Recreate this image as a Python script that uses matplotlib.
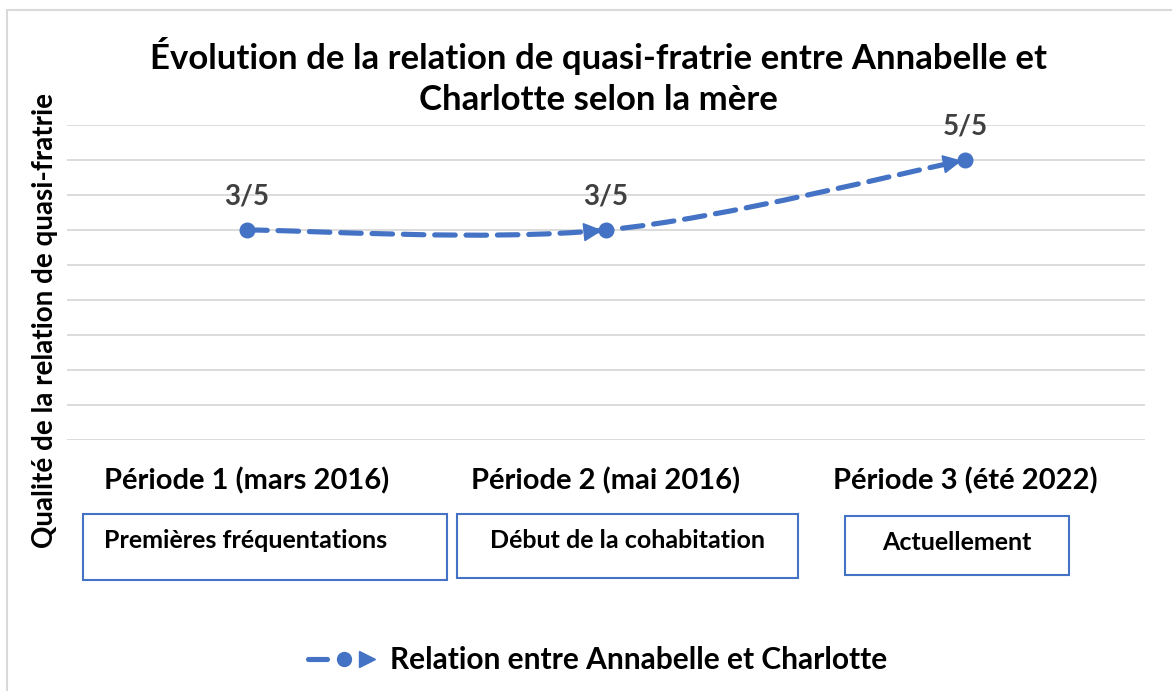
import numpy as np
import matplotlib
matplotlib.use("Agg")
import matplotlib.pyplot as plt
from matplotlib.path import Path
from matplotlib.patches import PathPatch, Polygon, Rectangle
from matplotlib.lines import Line2D
from matplotlib.legend_handler import HandlerBase
from matplotlib.transforms import IdentityTransform

plt.rcParams['font.family'] = ['Lato', 'DejaVu Sans']
plt.rcParams['font.weight'] = 'bold'

# ---- data ----
categories = ["Période 1 (mars 2016)", "Période 2 (mai 2016)", "Période 3 (été 2022)"]
phases = ["Premières fréquentations", "Début de la cohabitation", "Actuellement"]
levels = [3.0, 3.0, 4.0]          # plotted position on the (hidden) value axis
point_labels = ["3/5", "3/5", "5/5"]
series_name = "Relation entre Annabelle et Charlotte"
title_lines = ["Évolution de la relation de quasi-fratrie entre Annabelle et",
               "Charlotte selon la mère"]
ylabel = "Qualité de la relation de quasi-fratrie"

BLUE = "#4472C4"
GRID = "#d9d9d9"
W, H = 1172, 691
DPI = 100

fig = plt.figure(figsize=(W / DPI, H / DPI), dpi=DPI)

def fx(px):
    return px / W

def fy(py):
    return 1 - py / H

# outer chart border
fig.patches.append(Rectangle((fx(7), fy(700)), fx(1200), fy(10) - fy(700),
                             transform=fig.transFigure, fill=False,
                             edgecolor=GRID, lw=1.5))

ax = fig.add_axes([fx(67), fy(440), fx(1145) - fx(67), fy(125) - fy(440)])
x = np.arange(len(categories))
ax.set_xlim(-0.5, len(categories) - 0.5)
ax.set_ylim(0, 4.5)
ax.set_yticks(np.arange(0, 4.51, 0.5))
ax.yaxis.grid(True, color=GRID, lw=1.3)
ax.set_axisbelow(True)
ax.tick_params(left=False, bottom=False, labelleft=False, labelbottom=False)
for s in ax.spines.values():
    s.set_visible(False)

# smoothed line (Bezier through points)
pts = np.column_stack([x, levels]).astype(float)
k = 1 / 6
verts = [pts[0]]
codes = [Path.MOVETO]
n = len(pts)
for i in range(n - 1):
    p_prev = pts[i - 1] if i > 0 else pts[i]
    p_next2 = pts[i + 2] if i + 2 < n else pts[i + 1]
    c1 = pts[i] + (pts[i + 1] - p_prev) * k
    c2 = pts[i + 1] - (p_next2 - pts[i]) * k
    verts += [c1, c2, pts[i + 1]]
    codes += [Path.CURVE4] * 3
path = Path(verts, codes)
ax.add_patch(PathPatch(path, fill=False, edgecolor=BLUE, lw=3.7,
                       linestyle=(0, (4.0, 2.1)), capstyle='round', zorder=3))

# markers
ax.plot(x, levels, 'o', color=BLUE, ms=10.5, zorder=5)

# arrow heads at the end of each segment
for i in range(n - 1):
    c2 = verts[3 * i + 2]
    end = pts[i + 1]
    d_end = ax.transData.transform(end)
    d_c2 = ax.transData.transform(c2)
    v = d_end - d_c2
    v = v / np.hypot(*v)
    nrm = np.array([-v[1], v[0]])
    tip = d_end - v * 5
    base = tip - v * 17
    tri = [tip, base + nrm * 8.5, base - nrm * 8.5]
    ax.add_patch(Polygon(tri, closed=True, transform=IdentityTransform(),
                         facecolor=BLUE, edgecolor=BLUE, zorder=4))

# data labels
for xi, yi, lab in zip(x, levels, point_labels):
    ax.annotate(lab, (xi, yi), xytext=(0, 34), textcoords='offset pixels',
                ha='center', va='center', fontsize=20, color='#404040',
                fontweight='bold')

# category labels
for xi, cat in zip(x, categories):
    ax.annotate(cat, (xi, 0), xytext=(0, -41), textcoords='offset pixels',
                ha='center', va='center', fontsize=21, color='black',
                fontweight='bold', annotation_clip=False)

# title (two lines)
for ty, line in zip([56, 100], title_lines):
    fig.text(fx(598), fy(ty), line, ha='center', va='center', fontsize=25,
             fontweight='bold')

# y label
fig.text(fx(45), fy(320), ylabel, rotation=90, ha='center', va='center',
         fontsize=20, fontweight='bold')

# phase boxes
boxes = [(83, 514, 447, 580, 104, 'left'),
         (457, 514, 798, 578, 628, 'center'),
         (845, 516, 1069, 575, 957, 'center')]
for (x0, y0, x1, y1, tx, ha), txt in zip(boxes, phases):
    fig.patches.append(Rectangle((fx(x0), fy(y1)), fx(x1) - fx(x0), fy(y0) - fy(y1),
                                 transform=fig.transFigure, fill=False,
                                 edgecolor=BLUE, lw=1.5))
    fig.text(fx(tx), fy(y0 + 27), txt, ha=ha, va='center', fontsize=18,
             fontweight='bold')

# legend
class LegendHandler(HandlerBase):
    def create_artists(self, legend, orig, xd, yd, width, height, fontsize, trans):
        y = height / 2 - yd
        x0 = -xd
        a = Line2D([x0, x0 + 0.26 * width], [y, y], color=BLUE, lw=3.7,
                   solid_capstyle='round', transform=trans)
        b = Line2D([x0 + 0.5 * width], [y], marker='o', ms=10, color=BLUE,
                   transform=trans)
        c = Line2D([x0 + 0.82 * width], [y], marker='>', ms=11, color=BLUE,
                   transform=trans)
        return [a, b, c]

handle = Line2D([], [], color=BLUE)
fig.legend([handle], [series_name], handler_map={Line2D: LegendHandler()},
           loc='center', bbox_to_anchor=(fx(598), fy(660)), frameon=False,
           prop={'size': 21.5, 'weight': 'bold'}, handlelength=2.4,
           handletextpad=0.35)

fig.savefig("out.png", dpi=DPI)
